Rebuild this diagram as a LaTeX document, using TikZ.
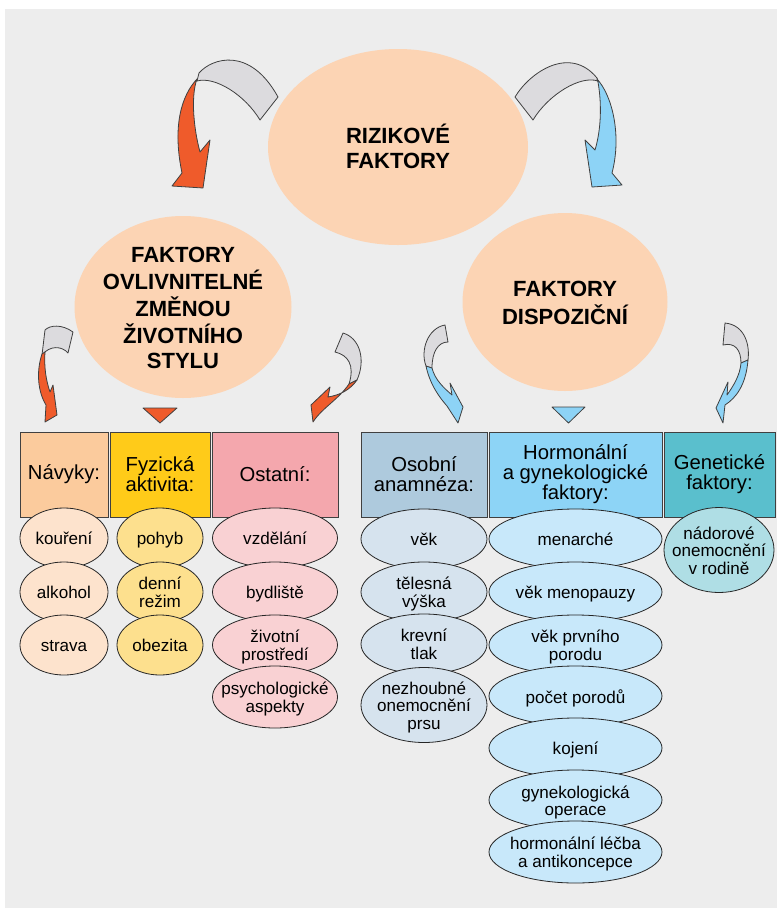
\documentclass[tikz,border=0pt]{standalone}
\usepackage{fontspec}
\setmainfont{Liberation Sans}
\usetikzlibrary{shapes.geometric}
\newcommand\ctxt[1]{\smash{\makebox[0pt]{\raisebox{-0.42em}{\begin{tabular}{@{}c@{}}#1\end{tabular}}}}}
\definecolor{bg}{HTML}{EDEDED}
\definecolor{peach}{HTML}{FCD4B4}
\definecolor{ribbon}{HTML}{DCDBDE}
\definecolor{orng}{HTML}{EF5B2B}
\definecolor{lblue}{HTML}{8DD3F6}
\definecolor{boxA}{HTML}{FBCB9D}
\definecolor{ellA}{HTML}{FDE3CD}
\definecolor{boxB}{HTML}{FFCB19}
\definecolor{ellB}{HTML}{FDE08E}
\definecolor{boxC}{HTML}{F4A7AD}
\definecolor{ellC}{HTML}{F9D1D3}
\definecolor{boxD}{HTML}{AECADD}
\definecolor{ellD}{HTML}{D6E3EE}
\definecolor{boxE}{HTML}{8DD4F6}
\definecolor{ellE}{HTML}{C8E8FA}
\definecolor{boxF}{HTML}{5ABFCD}
\definecolor{ellF}{HTML}{AFDEE5}
\begin{document}
\begin{tikzpicture}[x=0.75pt,y=-0.75pt,
  sz/.style 2 args={minimum width=#1*0.75pt, minimum height=#2*0.75pt},
  big/.style={ellipse, fill=peach, inner sep=0pt, font=\bfseries\fontsize{16.5}{18.75}\selectfont},
  catbox/.style={rectangle, draw=black!75, line width=0.7pt, inner sep=0pt, align=center, font=\fontsize{15.2}{15}\selectfont},
  item/.style={ellipse, draw=black!85, line width=0.6pt, inner sep=0pt, font=\fontsize{12.8}{13.2}\selectfont},
  arrowpart/.style={draw=black!75, line width=0.6pt, line join=round}]
\useasboundingbox (0,0) rectangle (777,908);
\fill[bg] (5,9) rectangle (777,908);

% main ellipses
\node[big, sz={260}{196}] (root) at (398,147) {\ctxt{RIZIKOVÉ\\FAKTORY}};
\node[big, sz={217}{182}] (life) at (183,307) {\ctxt{FAKTORY\\OVLIVNITELNÉ\\ZMĚNOU\\ŽIVOTNÍHO\\STYLU}};
\node[big, sz={205}{178}] (disp) at (565,302) {\ctxt{FAKTORY\\DISPOZIČNÍ}};

% top-left curved arrow
\draw[arrowpart, fill=ribbon] (199,73) .. controls (212,58) and (250,46) .. (278,97) -- (260,120) .. controls (245,95) and (215,76) .. (197,81) -- cycle;
\draw[arrowpart, fill=orng] (197,79) .. controls (182,95) and (172,125) .. (182,173) -- (172,186) -- (203,188) -- (210,140) -- (200,152) .. controls (194,130) and (191,100) .. (196,82) -- cycle;
% top-right curved arrow
\draw[arrowpart, fill=ribbon] (515,97) .. controls (530,72) and (570,45) .. (597,78) -- (598,81) .. controls (580,75) and (548,95) .. (533,120) -- cycle;
\draw[arrowpart, fill=lblue] (597,79) .. controls (612,95) and (622,135) .. (612,173) -- (622,185) -- (592,187) -- (585,140) -- (595,150) .. controls (601,130) and (602,105) .. (598,82) -- cycle;

% small arrow above Navyky
\draw[arrowpart, fill=ribbon] (45,330) .. controls (50,325) and (62,324) .. (73,332) -- (68,353) .. controls (62,346) and (50,345) .. (42,355) -- cycle;
\draw[arrowpart, fill=orng] (42,354) .. controls (36,372) and (38,392) .. (46,405) -- (45,422) -- (57,415) -- (53,385) -- (50,392) .. controls (46,380) and (44,368) .. (45,352) -- cycle;
% small arrow above Ostatni
\draw[arrowpart, fill=ribbon] (343,333) .. controls (360,338) and (366,360) .. (357,380) -- (349,384) .. controls (355,365) and (348,355) .. (335,352) -- cycle;
\draw[arrowpart, fill=orng] (357,380) .. controls (350,390) and (340,395) .. (328,397) -- (330,387) -- (311,405) -- (313,422) .. controls (322,408) and (338,400) .. (349,384) -- cycle;
% small arrow above Osobni
\draw[arrowpart, fill=ribbon] (445,325) -- (448,342) .. controls (438,342) and (432,352) .. (432,368) -- (426,366) .. controls (420,350) and (428,328) .. (445,325) -- cycle;
\draw[arrowpart, fill=lblue] (426,366) .. controls (430,385) and (440,398) .. (447,406) -- (458,423) -- (463,407) -- (450,383) -- (452,395) .. controls (444,388) and (435,380) .. (432,368) -- cycle;
% small arrow above Geneticke
\draw[arrowpart, fill=ribbon] (725,323) -- (723,345) .. controls (735,342) and (741,350) .. (741,363) -- (748,360) .. controls (750,345) and (745,325) .. (725,323) -- cycle;
\draw[arrowpart, fill=lblue] (748,360) .. controls (746,385) and (736,398) .. (725,405) -- (723,423) -- (716,408) -- (728,382) -- (727,395) .. controls (734,385) and (740,375) .. (741,363) -- cycle;

% triangles
\draw[arrowpart, fill=orng] (143,408) -- (177,408) -- (160,423) -- cycle;
\draw[arrowpart, fill=lblue] (552,407) -- (585,407) -- (568.5,423) -- cycle;

% category boxes
\node[catbox, fill=boxA, sz={88}{85}] (navyky) at (64,474.5) {Návyky:};
\node[catbox, fill=boxB, sz={100}{85}] (fyz) at (160,474.5) {Fyzická\\aktivita:};
\node[catbox, fill=boxC, sz={126}{85}] (ost) at (275,474.5) {Ostatní:};
\node[catbox, fill=boxD, sz={126}{85}] (osob) at (424,474.5) {Osobní\\anamnéza:};
\node[catbox, fill=boxE, sz={173}{85}] (horm) at (575.5,474.5) {Hormonální\\a gynekologické\\faktory:};
\node[catbox, fill=boxF, sz={111}{85}] (gen) at (719.5,474.5) {Genetické\\faktory:};

% column 1
\node[item, fill=ellA, sz={88}{60}] (a1) at (64,538) {\ctxt{kouření}};
\node[item, fill=ellA, sz={88}{60}] (a2) at (64,592) {\ctxt{alkohol}};
\node[item, fill=ellA, sz={88}{60}] (a3) at (64,645) {\ctxt{strava}};
% column 2
\node[item, fill=ellB, sz={86}{60}] (b1) at (160,538) {\ctxt{pohyb}};
\node[item, fill=ellB, sz={86}{60}] (b2) at (160,592) {\ctxt{denní\\režim}};
\node[item, fill=ellB, sz={86}{60}] (b3) at (160,645) {\ctxt{obezita}};
% column 3
\node[item, fill=ellC, sz={125}{60}] (c1) at (275,538) {\ctxt{vzdělání}};
\node[item, fill=ellC, sz={125}{60}] (c2) at (275,592) {\ctxt{bydliště}};
\node[item, fill=ellC, sz={125}{60}] (c3) at (275,645) {\ctxt{životní\\prostředí}};
\node[item, fill=ellC, sz={125}{62}] (c4) at (275,697) {\ctxt{psychologické\\aspekty}};
% column 4
\node[item, fill=ellD, sz={126}{60}] (d1) at (424,539) {\ctxt{věk}};
\node[item, fill=ellD, sz={126}{60}] (d2) at (424,592) {\ctxt{tělesná\\výška}};
\node[item, fill=ellD, sz={126}{60}] (d3) at (424,644) {\ctxt{krevní\\tlak}};
\node[item, fill=ellD, sz={126}{75}] (d4) at (424,705) {\ctxt{nezhoubné\\onemocnění\\prsu}};
% column 5
\node[item, fill=ellE, sz={173}{60}] (e1) at (575.5,539) {\ctxt{menarché}};
\node[item, fill=ellE, sz={173}{60}] (e2) at (575.5,592) {\ctxt{věk menopauzy}};
\node[item, fill=ellE, sz={173}{60}] (e3) at (575.5,645) {\ctxt{věk prvního\\porodu}};
\node[item, fill=ellE, sz={173}{60}] (e4) at (575.5,696) {\ctxt{počet porodů}};
\node[item, fill=ellE, sz={173}{60}] (e5) at (575.5,748) {\ctxt{kojení}};
\node[item, fill=ellE, sz={173}{60}] (e6) at (575.5,800) {\ctxt{gynekologická\\operace}};
\node[item, fill=ellE, sz={173}{62}] (e7) at (575.5,852) {\ctxt{hormonální léčba\\a antikoncepce}};
% column 6
\node[item, fill=ellF, sz={110}{85}] (f1) at (719,550) {\ctxt{nádorové\\onemocnění\\v rodině}};
\end{tikzpicture}
\end{document}
